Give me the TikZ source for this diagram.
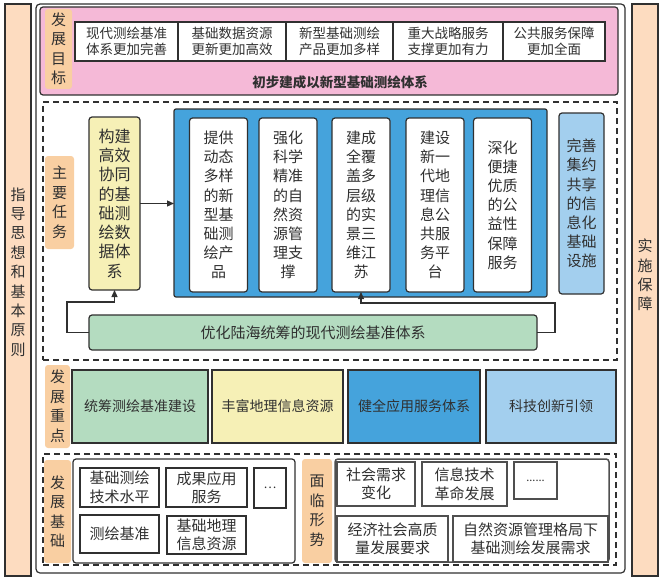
\documentclass[tikz,border=0pt]{standalone}
\usepackage{fontspec}
\setmainfont{Noto Sans CJK SC}
\usetikzlibrary{positioning, arrows.meta}
\definecolor{peach}{HTML}{FDDCC0}
\definecolor{tagorange}{HTML}{F9CFA2}
\definecolor{goalpink}{HTML}{F5B9D7}
\definecolor{pale}{HTML}{F6F0B6}
\definecolor{mid}{HTML}{45A3DC}
\definecolor{sky}{HTML}{A3CFEE}
\definecolor{mint}{HTML}{B4DCC0}
\definecolor{ink}{HTML}{303030}

\begin{document}
\begin{tikzpicture}[
  x=1pt, y=-1pt,
  every node/.style={inner sep=0pt, outer sep=0pt, text=ink},
  bar/.style={draw=ink, fill=peach, line width=1.3pt, minimum width=26, minimum height=572},
  coltxt/.style={font=\fontsize{15}{19.4}\selectfont, align=center},
  tag/.style={fill=tagorange, rounded corners=3pt, font=\fontsize{15}{19.5}\selectfont, align=center},
  goalbox/.style={draw=ink, fill=white, line width=1.2pt, minimum height=39,
                  font=\fontsize{13.5}{16.7}\selectfont, align=center},
  section/.style={draw=ink, line width=1.2pt, dash pattern=on 6pt off 4pt},
  task/.style={draw=ink, fill=white, line width=1.2pt, rounded corners=3pt,
               minimum width=58, minimum height=174, font=\fontsize{15}{19.2}\selectfont, align=center},
  focus/.style={draw=ink, line width=1.4pt, minimum height=73, font=\fontsize{14}{17}\selectfont},
  item/.style={draw=ink, fill=white, line width=1.2pt, font=\fontsize{15}{18.5}\selectfont, align=center},
  trend/.style={item, line width=1.5pt, draw=ink!85},
  ar/.style={-{Triangle[length=7pt,width=6pt]}, draw=ink, line width=1.2pt},
]
  \useasboundingbox (0,0) rectangle (667,586);

  \node[bar] (guide) at (18,290) {};
  \node[coltxt] (guidetxt) at (18,272) {指\\导\\思\\想\\和\\基\\本\\原\\则};
  \node[bar] (impl) at (645,290) {};
  \node[coltxt] (impltxt) at (645,275) {实\\施\\保\\障};

  \node[draw=ink, line width=1.2pt, rounded corners=4pt, minimum width=589, minimum height=569] (frame) at (330.5,288.5) {};

  \node[draw=ink, fill=goalpink, line width=1.2pt, rounded corners=3pt, minimum width=578, minimum height=88] (goal) at (329,51) {};
  \node[tag, minimum width=27, minimum height=80] (goaltag) at (58.5,49) {发\\展\\目\\标};
  \node[goalbox, minimum width=103] (g1) at (126.5,41.5) {现代测绘基准\\体系更加完善};
  \node[goalbox, minimum width=108, right=0pt of g1] (g2) {基础数据资源\\更新更加高效};
  \node[goalbox, minimum width=107, right=0pt of g2] (g3) {新型基础测绘\\产品更加多样};
  \node[goalbox, minimum width=110, right=0pt of g3] (g4) {重大战略服务\\支撑更加有力};
  \node[goalbox, minimum width=102, right=0pt of g4] (g5) {公共服务保障\\更加全面};
  \node[font=\bfseries\fontsize{13.5}{16}\selectfont] (goalsum) at (340,82) {初步建成以新型基础测绘体系};

  \node[section, minimum width=574, minimum height=258] (tasks) at (330,231) {};
  \node[tag, minimum width=29, minimum height=93] (tasktag) at (59.5,202.5) {主\\要\\任\\务};
  \node[draw=ink, fill=pale, line width=1.2pt, rounded corners=3pt, minimum width=51, minimum height=173,
        font=\fontsize{16}{19.3}\selectfont, align=center] (core) at (114.5,203.5)
        {构建\\高效\\协同\\的基\\础测\\绘数\\据体\\系};
  \node[draw=ink, fill=mid, line width=1.2pt, rounded corners=2pt, minimum width=373, minimum height=188] (platform) at (360.5,203) {};
  \node[task] (t1) at (218.5,205) {提供\\动态\\多样\\的新\\型基\\础测\\绘产\\品};
  \node[task] (t2) at (288,205) {强化\\科学\\精准\\的自\\然资\\源管\\理支\\撑};
  \node[task] (t3) at (361,205) {建成\\全覆\\盖多\\层级\\的实\\景三\\维江\\苏};
  \node[task] (t4) at (435,205) {建设\\新一\\代地\\理信\\息公\\共服\\务平\\台};
  \node[task] (t5) at (502.5,205) {深化\\便捷\\优质\\的公\\益性\\保障\\服务};
  \node[task, fill=sky, minimum width=45, minimum height=181] (infra) at (581.5,203.5) {完善\\集约\\共享\\的信\\息化\\基础\\设施};
  \node[draw=ink, fill=mint, line width=1.2pt, rounded corners=3pt, minimum width=448, minimum height=35,
        font=\fontsize{15}{18}\selectfont] (base) at (313,332.5) {优化陆海统筹的现代测绘基准体系};

  \coordinate (bendL) at (67,302);
  \coordinate (bendR) at (555,303);
  \draw[ar] (core.east) -- (core.east -| platform.west);
  \draw[ar] (base.west) -| (bendL) -| (core.south);
  \draw[ar] (base.east) -| (bendR) -| (t3.south);

  \node[tag, minimum width=25, minimum height=83] (focustag) at (57.5,406.5) {发\\展\\重\\点};
  \node[focus, fill=mint, minimum width=136] (f1) at (140,406.5) {统筹测绘基准建设};
  \node[focus, fill=pale, minimum width=131] (f2) at (277.5,406.5) {丰富地理信息资源};
  \node[focus, fill=mid, minimum width=132] (f3) at (414,406.5) {健全应用服务体系};
  \node[focus, fill=sky, minimum width=130] (f4) at (551,406.5) {科技创新引领};

  \node[section, minimum width=573, minimum height=111] (basis) at (329.5,509.5) {};
  \node[tag, minimum width=27, minimum height=103] (basistag) at (57.5,511.5) {发\\展\\基\\础};
  \node[draw=ink, fill=white, line width=1.2pt, rounded corners=3pt, minimum width=222, minimum height=104] (basispanel) at (184,511) {};
  \node[item, minimum width=79, minimum height=39] (b1) at (119.5,487.5) {基础测绘\\技术水平};
  \node[item, minimum width=81, minimum height=39] (b2) at (206.5,487.5) {成果应用\\服务};
  \node[item, minimum width=32, minimum height=40, font=\fontsize{12}{14}\selectfont] (b3) at (270,488) {…};
  \node[item, minimum width=79, minimum height=38] (b4) at (119.5,534) {测绘基准};
  \node[item, minimum width=79, minimum height=38] (b5) at (206.5,535) {基础地理\\信息资源};

  \node[tag, minimum width=30, minimum height=104] (trendtag) at (317,511) {面\\临\\形\\势};
  \node[draw=ink!85, fill=white, line width=1.5pt, rounded corners=3pt, minimum width=274, minimum height=103] (trendpanel) at (472,510.5) {};
  \node[trend, minimum width=78, minimum height=44] (s1) at (376,484) {社会需求\\变化};
  \node[trend, minimum width=85, minimum height=44] (s2) at (464.5,484) {信息技术\\革命发展};
  \node[trend, minimum width=43, minimum height=37, font=\fontsize{11}{13}\selectfont] (s3) at (535.5,480.5) {......};
  \node[trend, minimum width=111, minimum height=46] (s4) at (392.5,539) {经济社会高质\\量发展要求};
  \node[trend, minimum width=155, minimum height=46] (s5) at (530.5,539) {自然资源管理格局下\\基础测绘发展需求};
\end{tikzpicture}
\end{document}
